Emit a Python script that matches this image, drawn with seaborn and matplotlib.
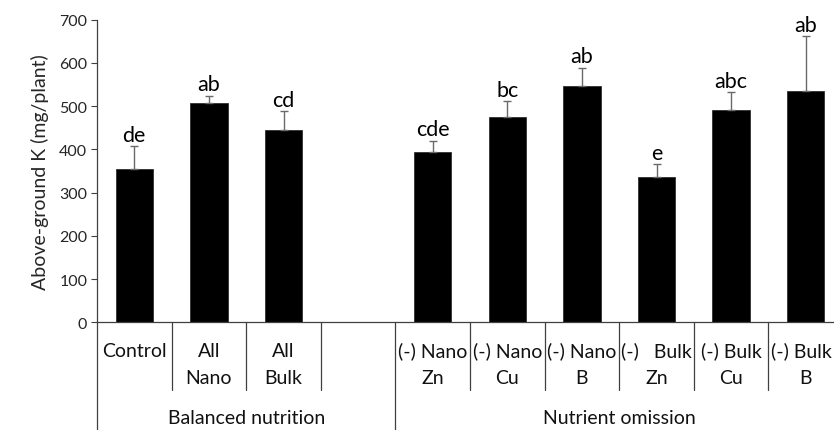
import matplotlib
matplotlib.use("Agg")
import matplotlib.pyplot as plt
import matplotlib.transforms as mtransforms
import pandas as pd
import seaborn as sns

# Treatments (second line of each label shown below the first)
treatments = ["Control", "All\nNano", "All\nBulk",
              "(-) Nano\nZn", "(-) Nano\nCu", "(-) Nano\nB",
              "(-)   Bulk\nZn", "(-) Bulk\nCu", "(-) Bulk\nB"]
# Above-ground K, mg/plant, with the upper error
k_mean = [355, 507, 444, 395, 476, 547, 337, 490, 536]
k_err = [52, 17, 45, 25, 35, 42, 29, 42, 126]
# Significance letters
letters = ["de", "ab", "cd", "cde", "bc", "ab", "e", "abc", "ab"]
# Outer grouping of the category axis
group_names = ["Balanced nutrition", "Nutrient omission"]
group_sizes = [4, 6]  # slots per group, the first includes a blank slot

GAP = " "
order = treatments[:3] + [GAP] + treatments[3:]

df = pd.DataFrame({"treatment": treatments, "K": k_mean,
                   "err": k_err, "letter": letters})

sns.set_style("white")
plt.rcParams["font.family"] = ["Lato", "DejaVu Sans"]

W, H = 834, 431
fig = plt.figure(figsize=(W / 100, H / 100), dpi=100)
left_px, zero_px, top_px, slot_px = 97, 323.3, 20.7, 74.6
ax = fig.add_axes([left_px / W, (H - zero_px) / H,
                   slot_px * len(order) / W, (zero_px - top_px) / H])

sns.barplot(data=df, x="treatment", y="K", order=order, color="black",
            width=0.5, saturation=1, errorbar=None, ax=ax,
            edgecolor="#303030", linewidth=0.6)

# Upper error bars and letters, positioned at each bar's category slot
xpos = [order.index(t) for t in treatments]
ax.errorbar(xpos, df["K"], yerr=[[0] * len(df), df["err"]], fmt="none",
            ecolor="#6a6a6a", elinewidth=1.0, capsize=3, capthick=1.0,
            zorder=3)
for x, m, e, lab in zip(xpos, df["K"], df["err"], df["letter"]):
    ax.annotate(lab, (x, m + e), xytext=(0, 1.0), textcoords="offset points",
                ha="center", va="bottom", fontsize=15.5, color="black")

ax.set_xlim(-0.5, len(order) - 0.5)
ax.set_ylim(0, 700)
ax.set_yticks(range(0, 701, 100))
ax.tick_params(axis="y", which="major", direction="out", length=4,
               width=0.8, color="#404040", labelsize=11.5, pad=3,
               left=True)
ax.tick_params(axis="x", bottom=False, labelbottom=False)
ax.set_xlabel("")
ax.set_ylabel("Above-ground K (mg/plant)", fontsize=14, labelpad=7)

for side in ("top", "right"):
    ax.spines[side].set_visible(False)
for side in ("left", "bottom"):
    ax.spines[side].set_color("#404040")
    ax.spines[side].set_linewidth(0.9)

# Multi-level category axis drawn below the plot
trans = mtransforms.blended_transform_factory(ax.transData, ax.transAxes)
axes_h = zero_px - top_px
to_ax = lambda ypx: (zero_px - ypx) / axes_h
row1, row2, short_end, grp_y = to_ax(351.7), to_ax(378.5), to_ax(391), to_ax(419)

renderer = fig.canvas.get_renderer()
for i, lab in enumerate(order):
    lines = lab.split("\n")
    for ln, yy in zip(lines, (row1, row2)):
        t = ax.text(i, yy, ln, transform=trans, ha="center",
                    va="center", fontsize=14, color="#111111")
        # keep labels of the last slot inside the canvas
        bb = t.get_window_extent(renderer)
        over = bb.x1 - (W - 2)
        if over > 0:
            t.set_transform(trans + mtransforms.ScaledTranslation(
                -over / 100, 0, fig.dpi_scale_trans))

bounds_long = [-0.5]
acc = -0.5
for n in group_sizes:
    acc += n
    bounds_long.append(acc)
for b in range(len(order) + 1):
    xb = b - 0.5
    yend = -0.5 if xb in bounds_long else short_end
    ax.plot([xb, xb], [0, yend], transform=trans, color="#404040",
            lw=0.9, clip_on=False)

start = -0.5
for name, n in zip(group_names, group_sizes):
    ax.text(start + n / 2, grp_y, name, transform=trans, ha="center",
            va="center", fontsize=14, color="#111111")
    start += n

fig.savefig("out.png", dpi=100)
